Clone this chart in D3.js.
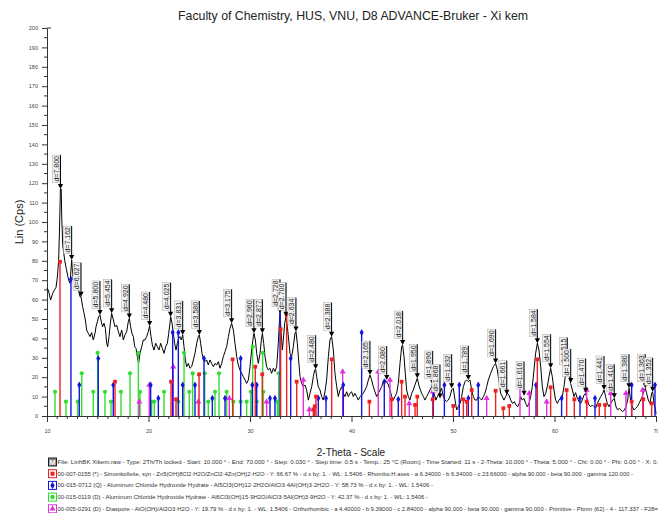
<!DOCTYPE html>
<html><head><meta charset="utf-8">
<script src="https://cdn.jsdelivr.net/npm/d3@7"></script>
<style>body{margin:0;background:#fff}svg{display:block}text{font-family:"Liberation Sans",Arial,sans-serif}</style>
</head><body><svg id="c" width="661" height="513"></svg>
<script>
// ---- data (2-Theta in degrees, intensity in Lin (Cps)) ----
const scanTheta = [10.0,10.13,10.36,10.56,10.72,10.89,11.02,11.15,11.25,11.32,11.4,11.45,11.55,11.61,11.75,11.9,12.05,12.2,12.27,12.43,12.55,12.66,12.86,12.99,13.12,13.25,13.35,13.51,13.65,13.78,13.91,14.07,14.24,14.4,14.56,14.73,14.83,14.96,15.09,15.22,15.35,15.48,15.62,15.75,15.88,15.98,16.11,16.24,16.37,16.54,16.7,16.86,17.03,17.19,17.36,17.52,17.68,17.85,18.01,18.11,18.24,18.37,18.51,18.64,18.77,18.9,19.03,19.16,19.33,19.49,19.66,19.82,19.98,20.11,20.25,20.38,20.54,20.71,20.87,21.03,21.2,21.36,21.53,21.69,21.86,21.99,22.12,22.18,22.32,22.45,22.58,22.71,22.84,22.97,23.1,23.23,23.37,23.5,23.63,23.76,23.92,24.09,24.25,24.42,24.58,24.75,24.91,25.01,25.14,25.27,25.4,25.57,25.73,25.89,26.06,26.22,26.39,26.55,26.72,26.88,27.04,27.21,27.37,27.54,27.7,27.87,28.03,28.19,28.36,28.52,28.69,28.85,29.01,29.18,29.34,29.51,29.67,29.84,30.0,30.16,30.33,30.39,30.53,30.66,30.82,30.99,31.12,31.22,31.35,31.48,31.64,31.81,31.97,32.13,32.3,32.46,32.63,32.79,32.89,32.96,33.05,33.19,33.28,33.42,33.55,33.68,33.81,33.94,34.1,34.27,34.43,34.53,34.66,34.79,34.93,35.09,35.25,35.42,35.58,35.75,35.91,36.08,36.24,36.37,36.47,36.57,36.73,36.9,37.06,37.22,37.39,37.55,37.72,37.88,38.04,38.21,38.37,38.54,38.7,38.87,39.03,39.19,39.36,39.52,39.69,39.85,40.01,40.18,40.34,40.51,40.67,40.84,41.0,41.16,41.33,41.49,41.66,41.82,41.98,42.15,42.31,42.48,42.64,42.81,42.97,43.13,43.3,43.46,43.63,43.79,43.96,44.12,44.28,44.45,44.61,44.78,44.94,45.04,45.17,45.3,45.43,45.6,45.76,45.93,46.09,46.25,46.48,46.68,46.91,47.08,47.24,47.4,47.57,47.73,47.9,48.0,48.13,48.32,48.45,48.65,48.88,49.05,49.21,49.37,49.54,49.7,49.87,50.03,50.2,50.36,50.52,50.69,50.85,51.02,51.18,51.34,51.51,51.67,51.84,52.0,52.17,52.33,52.49,52.66,52.82,52.99,53.15,53.32,53.48,53.71,53.97,54.2,54.37,54.56,54.69,54.86,55.02,55.19,55.35,55.52,55.68,55.88,56.04,56.21,56.37,56.53,56.66,56.83,56.99,57.16,57.32,57.49,57.65,57.81,57.98,58.14,58.31,58.47,58.64,58.8,58.96,59.13,59.29,59.46,59.62,59.78,59.95,60.11,60.28,60.44,60.61,60.77,60.93,61.1,61.26,61.43,61.59,61.76,61.92,62.08,62.25,62.41,62.58,62.74,62.9,63.07,63.23,63.4,63.56,63.73,63.89,64.05,64.22,64.38,64.55,64.74,64.88,65.04,65.2,65.37,65.53,65.73,65.89,66.06,66.22,66.39,66.55,66.71,66.88,67.04,67.21,67.34,67.5,67.67,67.83,68.0,68.16,68.32,68.49,68.65,68.82,68.95,69.08,69.24,69.41,69.57,69.67,69.8,69.96,70.0];
const scanCps = [65.8,64.9,59.8,63.2,64.9,66.3,71.6,80.4,100,117,117,103,88,85.6,80,76,72,69,68.4,80.4,72,68.4,66.7,70.1,64.9,61.5,61.5,56.4,52.9,49.5,44.3,42.6,40.9,43,39.2,42.6,46,48.6,51.2,52.1,48.6,46,47.8,45.2,37.5,35.7,40.9,47.8,52.9,49.5,46,46.9,43.5,40.9,44.3,39.2,41.8,43.5,48.6,50.3,46,42.6,40.9,35.7,34.9,30.6,27.1,32.3,35.7,39.2,39.2,40.9,43.5,46.4,40.9,36.6,34,37.5,35.7,34,37.5,34.9,32.3,35.7,37.5,42.6,47.8,51.2,47.8,42.6,37.5,34,37.5,40,40.9,39.2,41.8,35.7,28.9,25.4,27.1,24.6,25.4,28.9,32.3,37.5,40.9,41.8,37.5,32.3,29.7,28,28.9,26.3,28.9,27.1,25.4,27.1,26.3,28,24.6,27.1,30.6,33.2,35.7,40.9,45.2,47.8,44.3,37.5,30.6,26.3,23.7,22,20.3,18.6,16.8,18.6,25.4,34,40.9,42.6,39.2,32.3,27.1,32.3,39.2,42.6,37.5,30.6,25.4,23.7,24.6,22,24.6,22.9,25.4,37.5,47.8,52.9,44.3,34,39.2,47.8,51.2,46,39.2,32.3,30.6,35.7,42.6,43.5,37.5,28.9,20.3,16.8,15.1,16,13.4,8.2,11.7,15.1,20.3,23.7,24.1,20.3,15.1,13.4,10,8.2,12.5,18.6,30.6,39.2,40.9,34,22,15.1,10,13.4,15.1,11.7,10,12.5,10,11.7,12.5,10,11.7,10,8.2,10,10.8,11.7,13.4,15.1,18.6,21.1,18.6,15.1,12.5,10,11.7,13.4,15.1,17.7,18.6,17.7,16,13.4,10,8.2,10,11.7,16.8,27.1,35.7,36.6,30.6,22,13.4,10,8.2,11.7,13.4,16,19.4,15.1,11.7,10,8.2,10,11.7,13.4,15.1,16,11.7,8.2,10,11.7,14.3,10,8.2,7.4,8.2,10,13.4,14.3,8.2,3.1,4.8,6.5,10,15.1,17.7,18.6,17.7,18.6,13.4,10,8.2,8.2,10,9.1,8.2,10,11.7,15.1,18.6,22,25.4,27.1,23.7,16.8,11.7,10,8.2,10,11.7,10.8,8.2,6.5,7.4,5.7,4.8,6.5,10,8.2,9.1,6.5,4.8,6.5,10,15.1,23.7,32.3,37.5,34,25.4,15.1,10,11.7,15.1,20.3,24.6,20.3,13.4,8.2,6.5,8.2,9.1,10,15.1,22,22.9,22,16.8,13.4,10,12,9.1,7.4,6.5,8.2,10.8,11.7,8.2,5.7,4.8,5.7,4.8,4,6.5,8.2,10,11.7,13.4,10,6.5,4.8,6.5,8.2,9.1,4.8,3.1,4,3.1,2.2,3.1,4.8,8.2,14.3,8.2,4.8,3.1,4,4.8,6.5,8.2,10,13.4,14.3,11.7,8.2,6.5,11.7,12.5,6.5,3.1,0.8];

const peakTheta = [11.33,12.43,13.35,15.22,16.37,18.11,20.11,22.18,23.37,25.01,28.19,30.39,31.22,32.96,33.55,34.53,36.47,38.04,41.82,43.47,45.04,46.48,48.0,48.72,49.87,51.51,54.2,55.3,57.0,58.31,59.62,61.26,61.6,63.07,64.88,65.89,67.34,68.95,69.67];
const peakCps = [117,80.4,61.5,52.1,52.9,50.3,46.4,51.2,41.8,41.8,47.8,42.6,42.6,52.9,51.2,43.5,24.1,40.9,21.1,18.5,36.6,19.4,16,9,14.3,18.6,27.1,11,10.5,37.5,24.6,22.9,17,12,13.4,9.1,14.3,14.3,12.5];
const peakLabels = ["d=7.800","d=7.162","d=6.627","d=5.800","d=5.454","d=4.920","d=4.480","d=4.025","d=3.831","d=3.580","d=3.175","d=2.960","d=2.877","d=2.728","d=2.700","d=2.634","d=2.480","d=2.388","d=2.165","d=2.080","d=2.018","d=1.950","d=1.896","d=1.868","d=1.832","d=1.789","d=1.690","d=1.661","d=1.616","d=1.584","d=1.554","d=1.515","d=1.500","d=1.470","d=1.441","d=1.410","d=1.380","d=1.363","d=1.352"];

const simonkolleite = [[11.28,79.5],[16.7,17.7],[22.22,17.7],[22.71,8.6],[24.98,21.5],[28.29,29.2],[30.52,25.4],[31.21,21.5],[33.02,44.7],[33.61,52.4],[34.6,17.7],[36.24,3.4],[36.38,5],[36.5,10],[38.05,29.2],[41.76,7.4],[43.96,8.6],[44.94,17.7],[45.27,10],[46.26,5.7],[46.48,10],[48.0,8.6],[50.03,5.2],[51.02,8.6],[51.35,7.4],[51.84,13.4],[54.2,13],[54.96,4],[55.55,5.2],[58.31,29.2],[59.62,14.8],[61.2,13.4],[61.95,8.6],[63.17,7.4],[64.41,5.7],[64.98,5.7],[67.6,7.4],[68.75,8.6],[69.57,6.5]];
const alChloride12 = [[12.36,70.5],[13.18,16],[15.05,29.7],[16.53,16],[20.21,16],[20.97,9.1],[22.38,43],[22.94,43],[23.37,16],[24.58,16],[25.47,29.7],[26.29,9.1],[27.54,9.1],[29.08,29.7],[30.23,16],[30.66,16],[31.97,9.1],[32.46,9.1],[32.96,56.3],[34.01,29.7],[36.73,9.1],[37.49,9.1],[39.19,16],[41.0,43],[43.23,17.7],[44.61,8.6],[48.06,16],[49.15,16],[50.62,16],[51.51,9.1],[52.49,16],[58.18,16],[60.7,9.1],[62.51,9.1],[63.99,9.1],[67.6,16],[69.9,16]];
const alChloride15 = [[10.79,12.5],[11.87,7.4],[13.02,7.4],[13.42,22],[14.56,12.5],[14.99,32.6],[15.71,12.5],[16.31,7.4],[17.29,12.5],[18.18,22],[19.0,32.6],[19.16,12.5],[20.31,7.4],[20.57,7.4],[21.53,12.5],[22.94,7.4],[23.5,32.6],[24.02,12.5],[24.35,22],[25.54,22],[25.89,7.4],[26.55,12.5],[26.95,22],[27.7,12.5],[28.36,7.4],[29.08,7.4],[29.67,7.4],[30.07,12.5],[30.26,35.7],[30.66,7.4],[31.25,32.6],[31.32,12.5],[32.69,7.4],[32.83,22]];
const diaspore = [[19.1,7.4],[20.08,16],[22.44,25.4],[24.91,7.4],[27.96,9.1],[31.64,7.4],[35.25,18.5],[35.84,3.4],[39.13,22.8],[42.64,22.8],[43.79,18.5],[45.69,6.5],[48.0,12.5],[53.32,9.1],[56.6,22.8],[57.52,11.7],[59.23,7.4],[63.17,13.4],[65.54,11.7],[67.04,11.7],[68.69,13.4]];

const xTicks = [10,20,30,40,50,60,70];
const yTicks = d3.range(0, 201, 10);

const titleText = "Faculty of Chemistry, HUS, VNU, D8 ADVANCE-Bruker - Xi kem";
const yTitle = "Lin (Cps)";
const xTitle = "2-Theta - Scale";
const legendLines = [
 "File: LinhBK Xikem.raw - Type: 2Th/Th locked - Start: 10.000 ° - End: 70.000 ° - Step: 0.030 ° - Step time: 0.5 s - Temp.: 25 °C (Room) - Time Started: 11 s - 2-Theta: 10.000 ° - Theta: 5.000 ° - Chi: 0.00 ° - Phi: 0.00 ° - X: 0.",
 "00-007-0155 (*) - Simonkolleite, syn - Zn5(OH)8Cl2·H2O/ZnCl2·4Zn(OH)2·H2O - Y: 66.67 % - d x by: 1. - WL: 1.5406 - Rhombo.H.axes - a 6.34000 - b 6.34000 - c 23.66000 - alpha 90.000 - beta 90.000 - gamma 120.000 -",
 "00-015-0712 (Q) - Aluminum Chloride Hydroxide Hydrate - Al5Cl3(OH)12·2H2O/AlCl3·4Al(OH)3·2H2O - Y: 58.73 % - d x by: 1. - WL: 1.5406 -",
 "00-015-0119 (D) - Aluminum Chloride Hydroxide Hydrate - Al6Cl3(OH)15·9H2O/AlCl3·5Al(OH)3·9H2O - Y: 42.37 % - d x by: 1. - WL: 1.5406 -",
 "00-005-0291 (D) - Diaspore - AlO(OH)/Al2O3·H2O - Y: 19.79 % - d x by: 1. - WL: 1.5406 - Orthorhombic - a 4.40000 - b 9.39000 - c 2.84000 - alpha 90.000 - beta 90.000 - gamma 90.000 - Primitive - Pbnm (62) - 4 - 117.337 - F28="
];

// ---- drawing ----
const svg = d3.select("#c");
const x = d3.scaleLinear().domain([10,70]).range([47,656]);
const y = d3.scaleLinear().domain([0,200]).range([416,28]);

svg.append("text").attr("x",353).attr("y",20).attr("text-anchor","middle")
  .attr("font-size",13).attr("fill","#222").attr("textLength",350).attr("lengthAdjust","spacingAndGlyphs").text(titleText);

// y axis
const gy = svg.append("g").attr("transform","translate(47,0)")
  .call(d3.axisLeft(y).tickValues(yTicks).tickSize(5).tickSizeOuter(0).tickPadding(4));
gy.selectAll("text").attr("font-size",5.5).attr("fill","#444");
gy.selectAll("line,path").attr("stroke","#333");
gy.selectAll(".minor").data(d3.range(5,200,10)).enter().append("line")
  .attr("x1",-3).attr("x2",0).attr("y1",d=>y(d)).attr("y2",d=>y(d)).attr("stroke","#333");
gy.append("line").attr("x1",0).attr("x2",4).attr("y1",y(200)).attr("y2",y(200)).attr("stroke","#333");

// x axis
const clip = svg.append("clipPath").attr("id","xc").append("rect").attr("x",0).attr("y",0).attr("width",658).attr("height",513);
const gx = svg.append("g").attr("transform","translate(0,416)").attr("clip-path","url(#xc)")
  .call(d3.axisBottom(x).tickValues(xTicks).tickSize(6).tickSizeOuter(0).tickPadding(7).tickFormat(d3.format("d")));
gx.selectAll("text").attr("font-size",5.5).attr("fill","#444");
gx.selectAll("line,path").attr("stroke","#333");
gx.selectAll(".minor").data(d3.range(11,70,1).filter(d=>d%10)).enter().append("line")
  .attr("x1",d=>x(d)).attr("x2",d=>x(d)).attr("y1",0).attr("y2",3).attr("stroke","#333");

svg.append("text").attr("transform","translate(23,222) rotate(-90)").attr("text-anchor","middle")
  .attr("font-size",11).attr("fill","#222").text(yTitle);
svg.append("text").attr("x",351).attr("y",456).attr("text-anchor","middle")
  .attr("font-size",10).attr("fill","#222").text(xTitle);

// scan curve
const scan = scanTheta.map((t,i)=>[t,scanCps[i]]);
svg.append("path").datum(scan).attr("fill","none").attr("stroke","#000").attr("stroke-width",1)
  .attr("d", d3.line().x(d=>x(d[0])).y(d=>y(d[1])));

// reference sticks
const phases = [
  {data:alChloride15, color:"#33dd33", marker:"circle"},
  {data:diaspore, color:"#e030e0", marker:"triangle"},
  {data:alChloride12, color:"#1515e0", marker:"diamond"},
  {data:simonkolleite, color:"#ee2020", marker:"square"}
];
phases.forEach(p=>{
  const g = svg.append("g");
  g.selectAll("line").data(p.data).enter().append("line")
    .attr("x1",d=>x(d[0])).attr("x2",d=>x(d[0])).attr("y1",y(0)).attr("y2",d=>y(d[1]))
    .attr("stroke",p.color).attr("stroke-width",1.4);
  const sym = {circle:d3.symbolCircle, triangle:d3.symbolTriangle, diamond:d3.symbolDiamond, square:d3.symbolSquare}[p.marker];
  g.selectAll("path").data(p.data).enter().append("path")
    .attr("transform",d=>`translate(${x(d[0])},${y(d[1])})`)
    .attr("d", d3.symbol().type(sym).size(p.marker==="triangle"?16:14)).attr("fill",p.color);
});

// peak labels
const pk = svg.append("g");
peakTheta.forEach((t,i)=>{
  const px = x(t), py = y(peakCps[i]);
  const top = py - 33;
  const tg = pk.append("g");
  const txt = tg.append("text").attr("transform",`translate(${px-1.6},${top}) rotate(-90)`)
    .attr("text-anchor","end").attr("font-size",7).attr("fill","#222").text(peakLabels[i]);
  const len = txt.node().getComputedTextLength();
  tg.insert("rect","text").attr("x",px-8).attr("y",top-1).attr("width",7.5).attr("height",len+2)
    .attr("fill","#f2f2f2").attr("stroke","#aaa").attr("stroke-width",0.5);
  tg.append("line").attr("x1",px).attr("x2",px).attr("y1",top-1).attr("y2",py-3).attr("stroke","#000").attr("stroke-width",1);
  tg.append("path").attr("d",`M${px-2.6},${py-5}L${px+2.6},${py-5}L${px},${py}Z`).attr("fill","#000");
});

// legend
const legColors = ["#222","#ee2020","#1515e0","#33dd33","#e030e0"];
const legSyms = [null,d3.symbolSquare,d3.symbolDiamond,d3.symbolCircle,d3.symbolTriangle];
const legEnds = [658,633,433,428,658];
legendLines.forEach((s,i)=>{
  const ly = 462 + i*11.7;
  svg.append("rect").attr("x",48.5).attr("y",ly-4).attr("width",8).attr("height",8)
    .attr("fill", i===0?"#888":"#fff").attr("stroke",legColors[i]).attr("stroke-width",1);
  if(legSyms[i]) svg.append("path").attr("transform",`translate(52.5,${ly})`)
    .attr("d",d3.symbol().type(legSyms[i]).size(16)).attr("fill",legColors[i]);
  else svg.append("text").attr("x",52.5).attr("y",ly+2.5).attr("text-anchor","middle").attr("font-size",7).attr("fill","#fff").attr("font-weight","bold").text("M");
  svg.append("text").attr("x",57.5).attr("y",ly+2).attr("font-size",5.5).attr("fill","#333")
    .attr("textLength",legEnds[i]-57.5).attr("lengthAdjust","spacingAndGlyphs").text(s);
});
</script></body></html>
